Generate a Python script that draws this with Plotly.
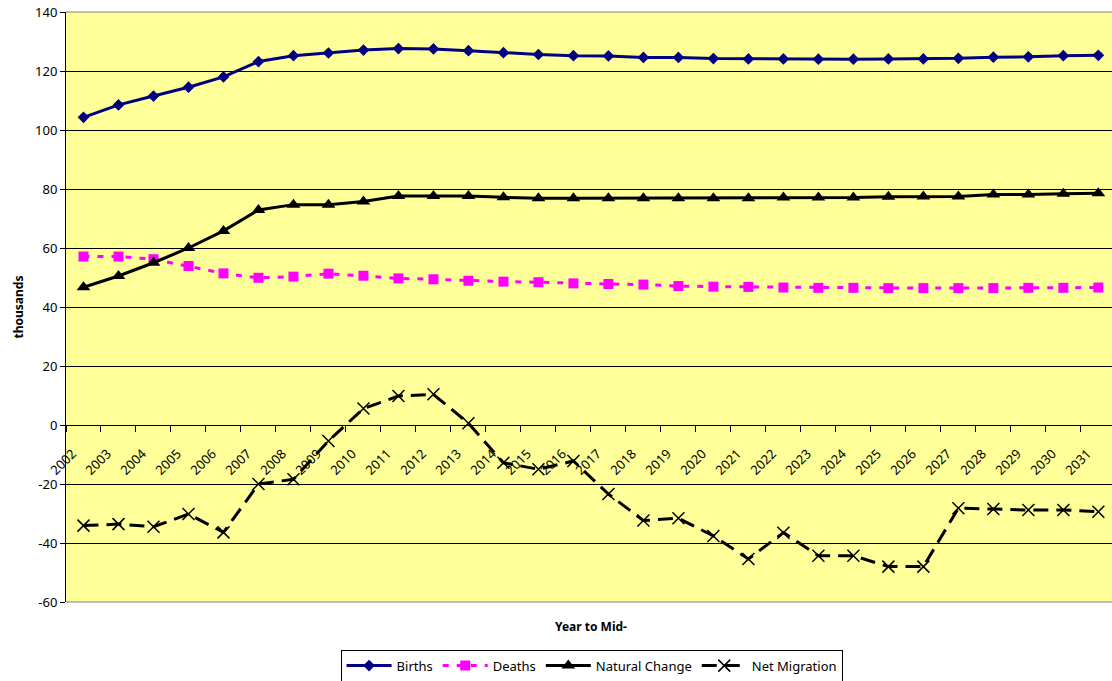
import plotly.graph_objects as go

YEARS = [str(y) for y in range(2002, 2032)]

BIRTHS = [104.3, 108.5, 111.5, 114.5, 118.0, 123.2, 125.2, 126.1, 127.1, 127.6,
          127.5, 126.9, 126.2, 125.6, 125.2, 125.1, 124.6, 124.6, 124.2, 124.1,
          124.1, 124.0, 124.0, 124.1, 124.1, 124.3, 124.7, 124.8, 125.2, 125.3]
DEATHS = [57.1, 57.1, 56.2, 53.9, 51.4, 49.9, 50.3, 51.3, 50.6, 49.7,
          49.4, 48.9, 48.6, 48.4, 48.0, 47.8, 47.6, 47.1, 46.9, 46.8,
          46.6, 46.5, 46.5, 46.4, 46.4, 46.4, 46.4, 46.5, 46.5, 46.6]
NATURAL_CHANGE = [46.7, 50.5, 55.0, 60.0, 65.8, 72.9, 74.7, 74.7, 75.8, 77.6,
                  77.6, 77.6, 77.2, 76.9, 76.9, 76.9, 76.9, 76.9, 76.9, 76.9,
                  77.1, 77.1, 77.1, 77.4, 77.5, 77.5, 78.1, 78.1, 78.4, 78.6]
NET_MIGRATION = [-34.1, -33.6, -34.5, -30.2, -36.4, -20.0, -18.4, -5.4, 5.6, 9.8,
                 10.4, 0.6, -12.8, -15.0, -12.2, -23.4, -32.4, -31.6, -37.6, -45.4,
                 -36.5, -44.3, -44.3, -48.0, -48.0, -28.2, -28.5, -28.8, -28.8, -29.4]

Y_TICKS = list(range(-60, 141, 20))
Y_TICK_TEXT = [str(v) for v in Y_TICKS]

FONT = "Noto Sans"

figure = go.Figure()
figure.add_trace(go.Scatter(
    x=YEARS, y=BIRTHS, name="Births", mode="lines+markers",
    line={"color": "#000080", "width": 3},
    marker={"symbol": "diamond", "size": 9, "color": "#000080"},
))
figure.add_trace(go.Scatter(
    x=YEARS, y=DEATHS, name="Deaths", mode="lines+markers",
    line={"color": "#FF00FF", "width": 3, "dash": "6px,8px"},
    marker={"symbol": "square", "size": 10, "color": "#FF00FF"},
))
figure.add_trace(go.Scatter(
    x=YEARS, y=NATURAL_CHANGE, name="Natural Change", mode="lines+markers",
    line={"color": "black", "width": 3},
    marker={"symbol": "triangle-up", "size": 12, "color": "black"},
))
figure.add_trace(go.Scatter(
    x=YEARS, y=NET_MIGRATION, name="Net Migration", mode="lines+markers",
    line={"color": "black", "width": 3, "dash": "15px,8px"},
    marker={"symbol": "x-thin", "size": 12, "color": "black",
            "line": {"color": "black", "width": 1.5}},
))

figure.update_layout(
    width=1112,
    height=681,
    margin={"l": 66, "r": 0, "t": 12, "b": 79, "autoexpand": False},
    paper_bgcolor="white",
    plot_bgcolor="#FFFF99",
    font={"family": FONT, "size": 13, "color": "black"},
    showlegend=True,
    legend={
        "orientation": "h",
        "xref": "container", "yref": "container",
        "x": 0.532, "xanchor": "center",
        "y": 0.046, "yanchor": "top",
        "bordercolor": "black", "borderwidth": 1,
        "font": {"size": 13},
        "itemwidth": 45,
        "tracegroupgap": 0,
    },
    xaxis={
        "type": "category",
        "range": [-0.5, 29.39],
        "anchor": "free",
        "position": 0.3,
        "showline": True, "linecolor": "black", "linewidth": 1,
        "showgrid": False,
        "ticks": "outside", "ticklen": 6, "tickcolor": "black",
        "tickson": "boundaries",
        "tickangle": -45,
        "ticklabelshift": -11,
        "ticklabelstandoff": 15,
        "tickfont": {"size": 13},
        "automargin": False,
    },
    yaxis={
        "range": [-60, 140],
        "tickvals": Y_TICKS,
        "ticktext": Y_TICK_TEXT,
        "showline": True, "linecolor": "black", "linewidth": 1,
        "gridcolor": "black", "gridwidth": 1,
        "zeroline": False,
        "ticks": "outside", "ticklen": 5, "tickcolor": "black",
        "tickfont": {"size": 13},
        "title": {"text": "<b>thousands</b>", "font": {"size": 12}, "standoff": 8},
        "automargin": False,
    },
    shapes=[
        {"type": "line", "xref": "paper", "yref": "paper",
         "x0": 0, "x1": 1, "y0": 1, "y1": 1,
         "line": {"color": "#808080", "width": 1}},
        {"type": "line", "xref": "paper", "yref": "paper",
         "x0": 0, "x1": 1, "y0": 0, "y1": 0,
         "line": {"color": "#808080", "width": 1}},
    ],
    annotations=[
        {"text": "<b>Year to Mid-</b>", "xref": "paper", "yref": "paper",
         "x": 0.502, "y": -0.042, "yanchor": "middle", "showarrow": False,
         "font": {"size": 12}},
    ],
)

figure.write_html(
    "out.html",
    config={"displayModeBar": False},
    post_script="document.body.style.margin='0';document.body.style.overflow='hidden';",
)
